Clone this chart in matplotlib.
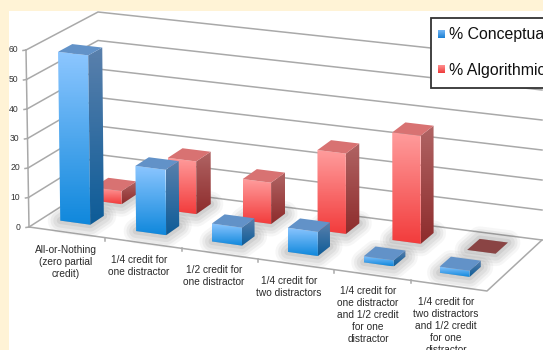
import numpy as np
import matplotlib
matplotlib.use("Agg")
import matplotlib.pyplot as plt
from matplotlib.patches import Polygon, Rectangle
from matplotlib.colors import LinearSegmentedColormap

categories = [
    "All-or-Nothing\n(zero partial\ncredit)",
    "1/4 credit for\none distractor",
    "1/2 credit for\none distractor",
    "1/4 credit for\ntwo distractors",
    "1/4 credit for\none distractor\nand 1/2 credit\nfor one\ndistractor",
    "1/4 credit for\ntwo distractors\nand 1/2 credit\nfor one\ndistractor",
]
conceptual = [57.5, 22, 6, 8, 2, 2]
algorithmic = [4.5, 18, 14, 27, 36, 0]
y_ticks = [0, 10, 20, 30, 40, 50, 60]

# floor corners and the height vector at each one, in pixels
FL, FR, BR, BL = [np.array(p, float) for p in [(29, 227), (487, 291), (542, 240), (98, 183)]]
UP_FL, UP_FR, UP_BR, UP_BL = [np.array(p, float) for p in [(-3, -177), (0, -186), (0, -180), (0, -171)]]


def project(u, v, h=0):
    base = (1 - u) * ((1 - v) * FL + v * BL) + u * ((1 - v) * FR + v * BR)
    up = (1 - u) * ((1 - v) * UP_FL + v * UP_BL) + u * ((1 - v) * UP_FR + v * UP_BR)
    return base + up * h / 60.0


def gradient_face(ax, pts, c_top, c_bot, zorder):
    # vertical gradient clipped to the face outline
    pts = np.array(pts)
    poly = Polygon(pts, closed=True, transform=ax.transData, facecolor="none", edgecolor="none")
    ax.add_patch(poly)
    cmap = LinearSegmentedColormap.from_list("face", [c_top, c_bot])
    grad = np.linspace(0, 1, 64).reshape(-1, 1)
    im = ax.imshow(grad, cmap=cmap, aspect="auto", zorder=zorder,
                   extent=[pts[:, 0].min(), pts[:, 0].max(), pts[:, 1].max(), pts[:, 1].min()])
    im.set_clip_path(poly)


def draw_bar(ax, cat, value, du, v0, v1, width, colors, zorder):
    u0 = (cat + 0.5) / 6 + du - width / 2
    u1 = u0 + width
    # soft shadow on the floor
    foot = [project(u0, v0), project(u1, v0), project(u1, v1), project(u0, v1)]
    for lw, alpha in [(18, 0.05), (14, 0.07), (10, 0.08), (5, 0.10)]:
        ax.add_patch(Polygon(foot, closed=True, facecolor="#555555", edgecolor="#555555",
                             lw=lw, alpha=alpha, joinstyle="round", zorder=zorder))
    front = [project(u0, v0, value), project(u1, v0, value), project(u1, v0), project(u0, v0)]
    side = [project(u1, v0, value), project(u1, v1, value), project(u1, v1), project(u1, v0)]
    top = [project(u0, v0, value), project(u1, v0, value), project(u1, v1, value), project(u0, v1, value)]
    if value > 0:
        gradient_face(ax, front, colors["front"][0], colors["front"][1], zorder + 0.1)
        gradient_face(ax, side, colors["side"][0], colors["side"][1], zorder + 0.1)
        ax.add_patch(Polygon(top, closed=True, facecolor=colors["top"], edgecolor="none", zorder=zorder + 0.2))
    else:
        ax.add_patch(Polygon(top, closed=True, facecolor="#8a4444", edgecolor="none", zorder=zorder + 0.2))


blue = {"front": ("#8cc6ff", "#1088dc"), "side": ("#5a80ac", "#0d5c98"), "top": "#6292c8"}
red = {"front": ("#ff9c9c", "#f23c3c"), "side": ("#b06464", "#8e2c2c"), "top": "#d87272"}

fig = plt.figure(figsize=(5.43, 3.5), dpi=100, facecolor="#fff3d6")
plt.rcParams["font.family"] = ["Liberation Sans", "DejaVu Sans"]
ax = fig.add_axes([0, 0, 1, 1])
ax.axis("off")
ax.add_patch(Rectangle((9, 11), 540, 345, facecolor="white", edgecolor="none", zorder=0))

grid = "#a9a9a9"
for t in y_ticks:
    a, b, c = project(0, 0, t), project(0, 1, t), project(1, 1, t)
    ax.plot([a[0], b[0], c[0]], [a[1], b[1], c[1]], color=grid, lw=1.1, zorder=1)
    ax.plot([a[0] - 3, a[0]], [a[1] + 0.5, a[1]], color=grid, lw=1.1, zorder=1)
    ax.text(a[0] - 8, a[1], str(t), ha="right", va="center", fontsize=6.2, color="#333333")

# axis wall edge and floor outline
edge = np.array([project(0, 0), project(0, 0, 60)])
ax.plot(edge[:, 0], edge[:, 1], color=grid, lw=1.1, zorder=1)
outline = np.array([project(0, 0), project(1, 0), project(1, 1)])
ax.plot(outline[:, 0], outline[:, 1], color=grid, lw=1.1, zorder=1)
for i in range(1, 6):
    p = project(i / 6, 0)
    ax.plot([p[0], p[0]], [p[1], p[1] + 3], color=grid, lw=1.1, zorder=1)

# back row first so the front row overlaps it
for i, val in enumerate(algorithmic):
    draw_bar(ax, i, val, -0.010, 0.66, 0.88, 0.0632, red, 2)
for i, val in enumerate(conceptual):
    draw_bar(ax, i, val, -0.012, 0.20, 0.40, 0.066, blue, 3)

label_x = [66, 139, 214, 289, 368, 446]
label_y = [245, 255, 265, 276, 286, 297]
for x, y, lab in zip(label_x, label_y, categories):
    ax.text(x, y, lab, ha="center", va="top", fontsize=7.3, color="#2a2a2a", linespacing=1.24, zorder=4)

ax.add_patch(Rectangle((431, 18), 130, 70, facecolor="white", edgecolor="#333333", lw=1.3, zorder=5))
for y, c_top, c_bot, name in [(34, "#74b6f4", "#1b80d4", "% Conceptual"), (69, "#ff9090", "#ee3a3a", "% Algorithmic")]:
    gradient_face(ax, [(438, y - 4), (445, y - 4), (445, y + 4), (438, y + 4)], c_top, c_bot, 6)
    ax.text(449, y + 1, name, ha="left", va="center", fontsize=11.4, color="#111111", zorder=6)

ax.set_xlim(0, 543)
ax.set_ylim(350, 0)
fig.savefig("out.png", dpi=100, facecolor=fig.get_facecolor())
